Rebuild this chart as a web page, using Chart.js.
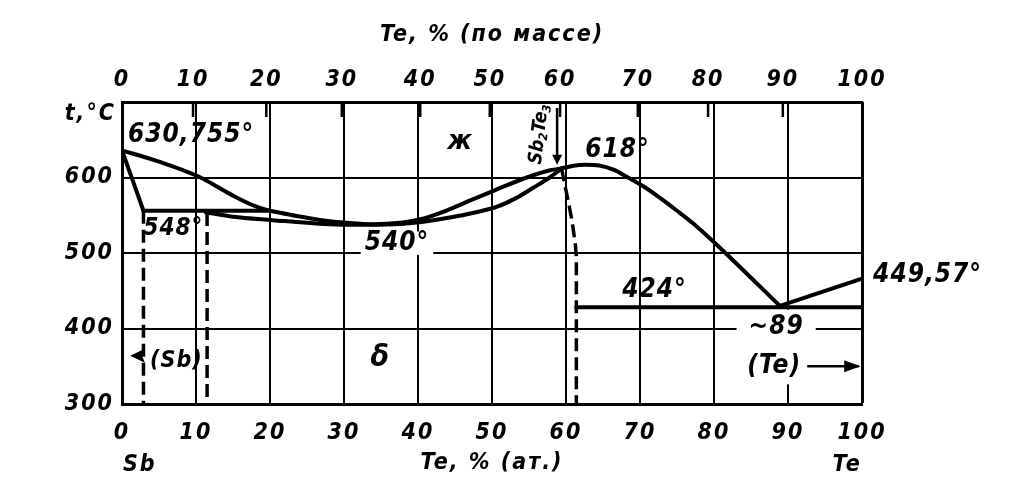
<!DOCTYPE html>
<html><head><meta charset="utf-8">
<script src="https://cdn.jsdelivr.net/npm/chart.js@4.4.0/dist/chart.umd.min.js"></script>
<style>html,body{margin:0;padding:0;background:#fff;}#wrap{width:1013px;height:500px;}</style>
</head><body><div id="wrap"><canvas id="c" width="1013" height="500"></canvas></div>
<script>
// ---- data: Te, at.% (x) ; t, °C (y) ----
const atTicks = [0, 10, 20, 30, 40, 50, 60, 70, 80, 90, 100];
const tTicks = [300, 400, 500, 600, 700];
const massTickLabels = ['0', '10', '20', '30', '40', '50', '60', '70', '80', '90', '100'];
const massTickAt = [0, 9.6, 19.5, 29.7, 40.3, 49.7, 59.2, 69.7, 79.2, 89.3, 100];

const sbLiqX = [0, 5, 10.4, 15, 18, 20];
const sbLiqT = [636, 621, 601, 576, 562, 556];
const sbSolX = [0, 2.9];
const sbSolT = [636, 556];
const eut548X = [2.9, 20];
const eut548T = [556, 556];
const deltaLiqX = [20, 23.6, 27, 30.4, 34, 37.6, 40.5, 44.3, 47.4, 50.6, 54.7, 57.6, 59.4];
const deltaLiqT = [556, 549, 543.5, 540, 538, 540, 545, 558, 571, 584, 600, 609, 612];
const deltaSolX = [11.3, 15, 20.4, 27.2, 30.4, 34, 37.6, 40.5, 44.3, 47.4, 50.6, 53.3, 55.5, 57.8, 59.4];
const deltaSolT = [554, 548, 543.5, 538.5, 537.5, 537.5, 538.5, 541, 547, 553, 561, 573, 586, 600, 612];
const teLiqX = [59.4, 61, 62.5, 64.5, 66.5, 68.2, 70.5, 72.7, 75, 77.2, 81, 88.9];
const teLiqT = [612, 615.5, 617, 616, 610, 601, 588, 573, 556, 539, 505, 430];
const teMeltX = [88.9, 100];
const teMeltT = [430, 466];
const eut424X = [61.4, 100];
const eut424T = [428, 428];
const sbSolvusX = [2.9, 2.9];
const sbSolvusT = [556, 300];
const deltaLeftX = [11.5, 11.5];
const deltaLeftT = [553, 300];
const deltaRightX = [59.4, 59.8, 60.3, 60.8, 61.1, 61.3, 61.4, 61.4];
const deltaRightT = [612, 592, 569, 543, 523, 508, 495, 300];

const FAM = "'Liberation Sans Narrow','DejaVu Sans Condensed','Liberation Sans',sans-serif";
const tickFont = {family: FAM, size: 23, style: 'italic', weight: 'bold'};

const pts = (xs, ts) => xs.map((x, i) => ({x: x, y: ts[i]}));
function ds(xs, ts, opt) {
  return Object.assign({data: pts(xs, ts), borderColor: '#000', borderWidth: 4, pointRadius: 0,
    showLine: true, fill: false, tension: 0, borderCapStyle: 'round', borderJoinStyle: 'round'}, opt || {});
}
const mono = {cubicInterpolationMode: 'monotone'};
const dash = {borderDash: [13, 6], borderWidth: 3.5, borderCapStyle: 'butt'};

const annot = {
  id: 'annot',
  beforeDraw(chart) { chart.ctx.letterSpacing = '2px'; },
  beforeDatasetsDraw(chart) {
    const {ctx, scales: {x, y}} = chart;
    ctx.save();
    ctx.strokeStyle = '#fff'; ctx.lineWidth = 5;
    ctx.beginPath();
    ctx.moveTo(x.getPixelForValue(90), y.getPixelForValue(425));
    ctx.lineTo(x.getPixelForValue(90), y.getPixelForValue(326));
    ctx.stroke();
    ctx.restore();
  },
  afterDatasetsDraw(chart) {
    const {ctx, scales: {x, y, x2}, chartArea} = chart;
    const X = v => x.getPixelForValue(v), Y = v => y.getPixelForValue(v);
    ctx.save();
    // inner tick marks of the mass-% axis
    ctx.strokeStyle = '#000'; ctx.lineWidth = 2.5;
    x2.ticks.forEach((t, i) => {
      if (i === 0 || i === x2.ticks.length - 1) return;
      const px = x2.getPixelForValue(t.value);
      ctx.beginPath(); ctx.moveTo(px, chartArea.top); ctx.lineTo(px, chartArea.top + 15); ctx.stroke();
    });
    ctx.letterSpacing = '1px';
    ctx.fillStyle = '#000';
    ctx.textBaseline = 'middle';
    const font = s => 'italic bold ' + s + 'px ' + FAM;
    function txt(s, xv, tv, align, size, bg) {
      ctx.font = font(size);
      ctx.textAlign = align;
      const px = X(xv), py = Y(tv);
      if (bg) {
        const w = ctx.measureText(s).width;
        const x0 = align === 'left' ? px : (align === 'center' ? px - w / 2 : px - w);
        ctx.fillStyle = '#fff';
        ctx.fillRect(x0 - bg, py - size * 0.45, w + 2 * bg, size * 0.9);
        ctx.fillStyle = '#000';
      }
      ctx.fillText(s, px, py);
    }
    txt('630,755°', 0.8, 656, 'left', 26);
    txt('548°', 2.9, 532, 'left', 24);
    txt('540°', 32.8, 513, 'left', 26, 4);
    txt('ж', 45.7, 647, 'center', 27);
    txt('618°', 62.6, 636, 'left', 26);
    txt('424°', 67.6, 451, 'left', 26);
    txt('~89', 88.4, 402, 'center', 26, 12);
    txt('449,57°', 101.5, 471, 'left', 26);
    txt('δ', 34.9, 360, 'center', 30);
    txt('(Sb)', 3.8, 357, 'left', 23);
    txt('(Te)', 84.5, 350, 'left', 26);
    // (Sb) arrow head
    ctx.beginPath();
    ctx.moveTo(X(1.1), Y(364)); ctx.lineTo(X(3.1), Y(364) - 7); ctx.lineTo(X(2.7), Y(364)); ctx.lineTo(X(3.1), Y(364) + 7);
    ctx.closePath(); ctx.fill();
    // (Te) arrow
    ctx.lineWidth = 2.5;
    ctx.beginPath(); ctx.moveTo(X(92.6), Y(350)); ctx.lineTo(X(99.6), Y(350)); ctx.stroke();
    ctx.beginPath(); ctx.moveTo(X(99.8), Y(350)); ctx.lineTo(X(97.6), Y(350) - 6); ctx.lineTo(X(97.6), Y(350) + 6); ctx.closePath(); ctx.fill();
    // Sb2Te3 arrow
    ctx.beginPath(); ctx.moveTo(X(58.8), Y(692)); ctx.lineTo(X(58.8), Y(624)); ctx.stroke();
    ctx.beginPath(); ctx.moveTo(X(58.8), Y(617)); ctx.lineTo(X(58.8) - 5, Y(630)); ctx.lineTo(X(58.8) + 5, Y(630)); ctx.closePath(); ctx.fill();
    // Sb2Te3 rotated label
    ctx.save();
    ctx.translate(X(56.4), Y(657));
    ctx.rotate(-Math.PI / 2 + 0.12);
    ctx.letterSpacing = '0px';
    ctx.textAlign = 'left';
    let cx = -30;
    [['Sb', 19, 0], ['2', 12, 5], ['Te', 19, 0], ['3', 12, 5]].forEach(p => {
      ctx.font = font(p[1]);
      ctx.fillText(p[0], cx, p[2]);
      cx += ctx.measureText(p[0]).width;
    });
    ctx.restore();
    // Sb / Te under axis
    ctx.letterSpacing = '2px';
    ctx.font = font(23);
    ctx.textAlign = 'center';
    ctx.fillText('Sb', X(2.4), 465);
    ctx.fillText('Te', X(98), 465);
    ctx.restore();
  }
};

new Chart(document.getElementById('c'), {
  type: 'scatter',
  data: {datasets: [
    ds(sbLiqX, sbLiqT, mono),
    ds(sbSolX, sbSolT),
    ds(eut548X, eut548T),
    ds(deltaLiqX, deltaLiqT, mono),
    ds(deltaSolX, deltaSolT, mono),
    ds(teLiqX, teLiqT, mono),
    ds(teMeltX, teMeltT),
    ds(eut424X, eut424T),
    ds(sbSolvusX, sbSolvusT, dash),
    ds(deltaLeftX, deltaLeftT, dash),
    ds(deltaRightX, deltaRightT, dash)
  ]},
  options: {
    responsive: false, animation: false, devicePixelRatio: 1,
    layout: {padding: {left: 0, right: 151, top: 0, bottom: 0}},
    plugins: {legend: {display: false}, tooltip: {enabled: false}},
    scales: {
      x: {
        type: 'linear', position: 'bottom', min: 0, max: 100,
        afterBuildTicks: s => { s.ticks = atTicks.map(v => ({value: v})); },
        afterFit: s => { s.height = 96; },
        ticks: {font: tickFont, color: '#000', padding: 15, maxRotation: 0, autoSkip: false, callback: v => String(v)},
        grid: {color: '#000', lineWidth: c => (c.tick && c.tick.value === 100) ? 3 : 2, drawTicks: false},
        border: {color: '#000', width: 3},
        title: {display: true, text: 'Te, % (ат.)', font: tickFont, color: '#000', padding: {top: 0, bottom: 23}}
      },
      x2: {
        type: 'linear', position: 'top', min: 0, max: 100,
        afterBuildTicks: s => { s.ticks = massTickAt.map(v => ({value: v})); },
        afterFit: s => { s.height = 102; },
        ticks: {font: tickFont, color: '#000', padding: 8, maxRotation: 0, autoSkip: false, callback: (v, i) => massTickLabels[i]},
        grid: {display: true, drawOnChartArea: false, drawTicks: false, color: '#000'},
        border: {color: '#000', width: 3},
        title: {display: true, text: 'Te, % (по массе)', font: tickFont, color: '#000', padding: {top: 21, bottom: 0}}
      },
      y: {
        type: 'linear', position: 'left', min: 300, max: 700,
        afterBuildTicks: s => { s.ticks = tTicks.map(v => ({value: v})); },
        afterFit: s => { s.width = 122; },
        ticks: {font: tickFont, color: '#000', padding: 8, callback: v => v === 700 ? '' : String(v)},
        grid: {color: '#000', lineWidth: 2, drawTicks: false},
        border: {color: '#000', width: 3}
      }
    }
  },
  plugins: [annot, {
    id: 'tlabel',
    afterDraw(chart) {
      const ctx = chart.ctx;
      ctx.save();
      ctx.letterSpacing = '2px';
      ctx.font = 'italic bold 23px ' + FAM;
      ctx.textAlign = 'right'; ctx.textBaseline = 'middle'; ctx.fillStyle = '#000';
      ctx.fillText('t,°C', 116, chart.scales.y.getPixelForValue(700) + 12);
      ctx.restore();
    }
  }]
});
</script></body></html>
